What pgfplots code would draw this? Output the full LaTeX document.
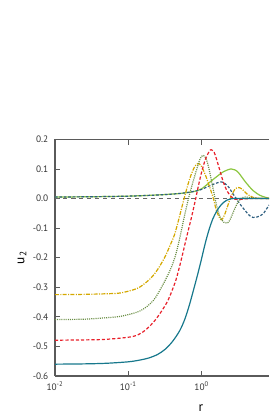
\documentclass[border=0pt]{standalone}
\usepackage{fontspec}
\setmainfont{PT Sans}
\usepackage{pgfplots}
\pgfplotsset{compat=1.18}
\definecolor{cteal}{HTML}{17788C}
\definecolor{cred}{HTML}{E8202A}
\definecolor{colive}{HTML}{6A8E45}
\definecolor{cgold}{HTML}{D4A800}
\definecolor{clgreen}{HTML}{8CC63F}
\definecolor{cblue}{HTML}{2E5F80}
\definecolor{caxis}{HTML}{5A5A5A}
\definecolor{ctext}{HTML}{333333}
\begin{document}
\begin{tikzpicture}
\begin{axis}[
  scale only axis,
  width=160.5pt, height=177.5pt,
  xmin=-2, xmax=0.918, ymin=-0.6, ymax=0.2,
  axis x line=box, axis y line=left,
  axis line style={caxis, line width=0.9pt, -},
  every tick/.style={caxis, line width=0.6pt},
  tick align=inside,
  major tick length=4pt,
  xtick={-2,-1,0,1},
  xticklabels={10\textsuperscript{-2},10\textsuperscript{-1},10\textsuperscript{0},10\textsuperscript{1}},
  ytick={-0.6,-0.5,-0.4,-0.3,-0.2,-0.1,0,0.1,0.2},
  yticklabels={-0.6,-0.5,-0.4,-0.3,-0.2,-0.1,0.0,0.1,0.2},
  tick label style={font=\fontsize{7}{8}\selectfont, text=ctext},
  xticklabel style={yshift=-1pt},
  yticklabel style={xshift=-1.5pt},
  label style={font=\fontsize{8}{9}\selectfont, text=ctext},
  xlabel={r},
  ylabel={u\textsubscript{2}},
  every axis x label/.style={at={(axis description cs:0.682,0)}, anchor=center, yshift=-24pt},
  every axis y label/.style={at={([xshift=-24.75pt]axis description cs:0,0.5)}, rotate=90, anchor=center},
  every axis plot/.append style={line width=0.9pt, smooth, no marks},
]
% zero line
\addplot[color=gray!80!black, dashed, line width=0.6pt, smooth=false] coordinates {(-2,0) (0.918,0)};
% light green solid
\addplot[color=clgreen] coordinates {
(-2.0,0.005) (-1.5,0.006) (-1.0,0.008) (-0.6,0.012) (-0.3,0.017) (-0.1,0.024)
(0.0,0.033) (0.1,0.053) (0.2,0.073) (0.3,0.091) (0.4,0.100) (0.45,0.097)
(0.5,0.088) (0.6,0.055) (0.7,0.027) (0.8,0.010) (0.9,0.002) (0.918,0.001)};
% dark blue short dashed
\addplot[color=cblue, dash pattern=on 2pt off 1.3pt] coordinates {
(-2.0,0.005) (-1.5,0.006) (-1.0,0.008) (-0.6,0.012) (-0.3,0.017) (-0.1,0.024)
(0.0,0.031) (0.1,0.042) (0.2,0.052) (0.27,0.056) (0.32,0.050) (0.37,0.038)
(0.42,0.018) (0.46,0.004) (0.52,-0.018) (0.59,-0.040) (0.65,-0.057) (0.7,-0.064)
(0.75,-0.063) (0.8,-0.058) (0.85,-0.048) (0.918,-0.022)};
% gold dash-dot
\addplot[color=cgold, dash pattern=on 3pt off 1pt on 0.8pt off 1pt] coordinates {
(-2.0,-0.325) (-1.6,-0.324) (-1.3,-0.322) (-1.1,-0.319) (-0.88,-0.304) (-0.75,-0.282)
(-0.66,-0.260) (-0.59,-0.236) (-0.5,-0.197) (-0.43,-0.158) (-0.37,-0.122) (-0.31,-0.068)
(-0.25,-0.010) (-0.19,0.045) (-0.14,0.083) (-0.09,0.110) (-0.05,0.118) (-0.01,0.112)
(0.05,0.080) (0.1,0.045) (0.16,0.000) (0.2,-0.040) (0.25,-0.068) (0.28,-0.070)
(0.32,-0.050) (0.39,0.000) (0.45,0.030) (0.5,0.037) (0.55,0.032) (0.62,0.015)
(0.7,0.004) (0.8,0.000) (0.918,0.0)};
% olive dotted
\addplot[color=colive, dash pattern=on 0.8pt off 0.8pt] coordinates {
(-2.0,-0.409) (-1.6,-0.408) (-1.3,-0.403) (-1.1,-0.398) (-0.84,-0.380) (-0.66,-0.345)
(-0.53,-0.292) (-0.43,-0.242) (-0.36,-0.195) (-0.3,-0.135) (-0.24,-0.065) (-0.18,0.000)
(-0.12,0.055) (-0.06,0.105) (-0.02,0.135) (0.02,0.146) (0.06,0.135) (0.1,0.100)
(0.15,0.040) (0.2,-0.020) (0.25,-0.062) (0.3,-0.080) (0.34,-0.083) (0.38,-0.075)
(0.45,-0.035) (0.5,-0.010) (0.55,0.003) (0.6,0.005) (0.7,0.002) (0.918,0.0)};
% red dashed
\addplot[color=cred, dash pattern=on 2.4pt off 1.5pt] coordinates {
(-2.0,-0.479) (-1.6,-0.478) (-1.3,-0.476) (-0.95,-0.467) (-0.8,-0.451) (-0.66,-0.419)
(-0.545,-0.380) (-0.455,-0.342) (-0.36,-0.282) (-0.31,-0.238) (-0.26,-0.188) (-0.21,-0.135)
(-0.15,-0.075) (-0.09,-0.010) (-0.04,0.048) (0.0,0.090) (0.05,0.132) (0.1,0.158)
(0.13,0.165) (0.17,0.156) (0.2,0.135) (0.25,0.093) (0.3,0.052) (0.35,0.024)
(0.4,0.007) (0.45,-0.002) (0.5,-0.004) (0.6,-0.001) (0.7,0.0) (0.918,0.0)};
% teal solid
\addplot[color=cteal] coordinates {
(-2.0,-0.560) (-1.6,-0.559) (-1.3,-0.557) (-1.0,-0.552) (-0.84,-0.546) (-0.72,-0.539)
(-0.6,-0.527) (-0.5,-0.510) (-0.4,-0.484) (-0.3,-0.447) (-0.23,-0.408) (-0.17,-0.362)
(-0.11,-0.308) (-0.05,-0.252) (0.0,-0.202) (0.05,-0.150) (0.1,-0.106) (0.15,-0.070)
(0.2,-0.045) (0.25,-0.026) (0.3,-0.013) (0.35,-0.005) (0.4,-0.001) (0.5,0.0) (0.918,0.0)};
\end{axis}
\pgfresetboundingbox
\useasboundingbox (-41.25pt,-33pt) rectangle (160.5pt,282pt);
\end{tikzpicture}
\end{document}
